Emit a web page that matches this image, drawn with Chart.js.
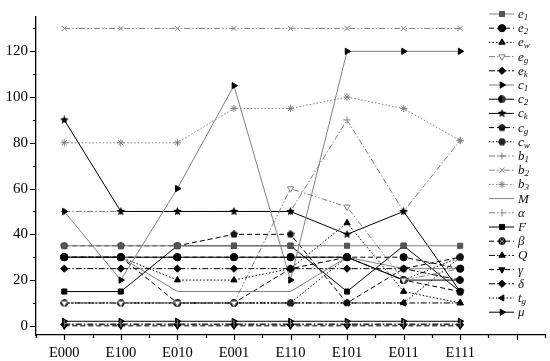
<!DOCTYPE html>
<html lang="en">
<head>
<meta charset="UTF-8">
<title>Scenario chart</title>
<script src="https://cdn.jsdelivr.net/npm/chart.js@4.4.0/dist/chart.umd.min.js"></script>
<style>
  *{margin:0;padding:0;box-sizing:border-box}
  body{background:#fff;width:550px;height:361px;overflow:hidden}
</style>
</head>
<body>
<canvas id="chart" width="550" height="361"></canvas>
<script>
// categories and ticks
const categories = ['E000','E100','E010','E001','E110','E101','E011','E111'];
const yTicks = [0, 20, 40, 60, 80, 100, 120];

// series values
const e1    = [35, 35, 35, 35, 35, 35, 35, 35];
const e2    = [30, 30, 30, 30, 30, 30, 30, 25];
const ew    = [30, 30, 20, 20, 25, 45, 15, 10];
const eg    = [10, 10, 10, 10, 60, 52, 20, 25];
const ek    = [25, 25, 25, 25, 25, 25, 25, 20];
const c1    = [50, 20, 60, 105, 20, 120, 120, 120];
const c2    = [30, 30, 30, 30, 30, 30, 20, 20];
const ck    = [90, 50, 50, 50, 50, 40, 50, 15];
const cg    = [35, 35, 35, 40, 40, 10, 25, 30];
const cw    = [10, 10, 10, 10, 10, 30, 20, 30];
const b1    = [50, 50, 50, 50, 50, 90, 50, 81];
const b2    = [130, 130, 130, 130, 130, 130, 130, 130];
const b3    = [80, 80, 80, 95, 95, 100, 95, 81];
const M     = [30, 30, 15, 15, 15, 30, 25, 25];
const alpha = [1, 1, 1, 1, 1, 1, 1, 1];
const F     = [15, 15, 35, 35, 35, 15, 35, 15];
const beta  = [30, 30, 10, 10, 25, 30, 20, 15];
const Q     = [10, 10, 10, 10, 10, 10, 10, 10];
const gamma = [0, 0, 0, 0, 0, 0, 0, 0];
const delta = [0.5, 0.5, 0.5, 0.5, 0.5, 0.5, 0.5, 0.5];
const tg    = [10, 10, 10, 10, 10, 10, 10, 30];
const mu    = [2, 2, 2, 2, 2, 2, 2, 2];

const GREY = '#808080', BLACK = '#000';
const SERIF = '"Liberation Serif", "Times New Roman", serif';
const SOLID = [], DASH = [5, 3], DOT = [1.5, 2], DASHDOT = [6, 2, 1.5, 2], DASHDOTDOT = [6, 2, 1.5, 2, 1.5, 2];

// small custom marker images
function marker(size, draw) {
  const c = document.createElement('canvas');
  c.width = c.height = size;
  const g = c.getContext('2d');
  draw(g, size / 2);
  return c;
}
const starImg = marker(9, (g, r) => {
  g.beginPath();
  for (let i = 0; i < 10; i++) {
    const a = -Math.PI / 2 + i * Math.PI / 5, rr = i % 2 ? r * 0.45 : r;
    g.lineTo(r + rr * Math.cos(a), r + rr * Math.sin(a));
  }
  g.closePath(); g.fillStyle = '#000'; g.fill();
});
const pentImg = marker(8, (g, r) => {
  g.beginPath();
  for (let i = 0; i < 5; i++) {
    const a = -Math.PI / 2 + i * 2 * Math.PI / 5;
    g.lineTo(r + r * Math.cos(a), r + r * Math.sin(a));
  }
  g.closePath(); g.fillStyle = '#111'; g.fill();
});
const halfImg = marker(8, (g, r) => {
  g.beginPath(); g.arc(r, r, r - 0.3, 0, Math.PI * 2); g.fillStyle = '#333'; g.fill();
  g.beginPath(); g.arc(r, r, r - 0.3, Math.PI / 2, Math.PI * 1.5); g.fillStyle = '#000'; g.fill();
});
const betaImg = marker(8, (g, r) => {
  g.beginPath(); g.arc(r, r, r - 0.3, 0, Math.PI * 2); g.fillStyle = '#111'; g.fill();
  g.strokeStyle = '#aaa'; g.lineWidth = 0.8;
  g.beginPath(); g.moveTo(2, 2); g.lineTo(6, 6); g.moveTo(6, 2); g.lineTo(2, 6); g.stroke();
});
const hexImg = marker(8, (g, r) => {
  g.beginPath();
  for (let i = 0; i < 6; i++) {
    const a = i * Math.PI / 3;
    g.lineTo(r + r * Math.cos(a), r + r * Math.sin(a));
  }
  g.closePath(); g.fillStyle = '#222'; g.fill();
});

const series = [
  {name: 'e', sub: '1', data: e1, color: GREY, dash: SOLID, style: 'rect', fill: '#555'},
  {name: 'e', sub: '2', data: e2, color: BLACK, dash: DASH, style: 'circle', fill: BLACK},
  {name: 'e', sub: 'w', data: ew, color: BLACK, dash: DOT, style: 'triangle', fill: BLACK},
  {name: 'e', sub: 'g', data: eg, color: GREY, dash: DASHDOTDOT, style: 'triangle', rot: 180, fill: '#fff'},
  {name: 'e', sub: 'k', data: ek, color: BLACK, dash: DASHDOT, style: 'rectRot', fill: BLACK},
  {name: 'c', sub: '1', data: c1, color: GREY, dash: SOLID, style: 'triangle', rot: 90, fill: BLACK},
  {name: 'c', sub: '2', data: c2, color: BLACK, dash: SOLID, style: halfImg},
  {name: 'c', sub: 'k', data: ck, color: BLACK, dash: SOLID, style: starImg},
  {name: 'c', sub: 'g', data: cg, color: BLACK, dash: DASH, style: pentImg},
  {name: 'c', sub: 'w', data: cw, color: BLACK, dash: DOT, style: hexImg},
  {name: 'b', sub: '1', data: b1, color: GREY, dash: DASHDOT, style: 'cross', fill: GREY},
  {name: 'b', sub: '2', data: b2, color: GREY, dash: DASHDOTDOT, style: 'crossRot', fill: GREY},
  {name: 'b', sub: '3', data: b3, color: GREY, dash: DOT, style: 'star', fill: GREY},
  {name: 'M', sub: '', data: M, color: GREY, dash: SOLID, style: false},
  {name: 'α', sub: '', data: alpha, color: GREY, dash: DASHDOT, style: 'line', rot: 90, fill: GREY},
  {name: 'F', sub: '', data: F, color: BLACK, dash: SOLID, style: 'rect', fill: BLACK},
  {name: 'β', sub: '', data: beta, color: BLACK, dash: DASH, style: betaImg},
  {name: 'Q', sub: '', data: Q, color: BLACK, dash: DASHDOT, style: 'triangle', fill: BLACK},
  {name: 'γ', sub: '', data: gamma, color: BLACK, dash: DASH, style: 'triangle', rot: 180, fill: BLACK},
  {name: 'δ', sub: '', data: delta, color: BLACK, dash: DASHDOT, style: 'rectRot', fill: BLACK},
  {name: 't', sub: 'g', data: tg, color: BLACK, dash: DOT, style: 'triangle', rot: 270, fill: BLACK},
  {name: 'μ', sub: '', data: mu, color: BLACK, dash: SOLID, style: 'triangle', rot: 90, fill: BLACK}
];

const datasets = series.map(s => ({
  label: s.name + s.sub,
  data: s.data.map((v, i) => ({x: i, y: v})),
  borderColor: s.color,
  borderWidth: 1,
  borderDash: s.dash,
  pointStyle: s.style,
  pointRotation: s.rot || 0,
  pointRadius: s.style ? 3.6 : 0,
  pointBackgroundColor: s.fill || BLACK,
  pointBorderColor: s.style === 'triangle' && s.fill === '#fff' ? GREY : (s.fill === '#555' ? '#555' : s.color === GREY && s.fill === BLACK ? BLACK : s.color),
  pointBorderWidth: 1,
  fill: false,
  tension: 0
}));

// axis tick marks (major + minor, outward)
const tickMarks = {
  id: 'tickMarks',
  afterDraw(chart) {
    const {ctx, scales: {x, y}, chartArea: a} = chart;
    ctx.save();
    ctx.strokeStyle = '#000';
    ctx.lineWidth = 1.2;
    ctx.beginPath();
    for (let v = -0.5; v <= 8.5; v += 0.5) {
      const px = Math.round(x.getPixelForValue(v)) + 0.5;
      const len = Number.isInteger(v) ? 5 : 3;
      ctx.moveTo(px, a.bottom); ctx.lineTo(px, a.bottom + len);
    }
    for (let v = 0; v <= 130; v += 10) {
      const py = Math.round(y.getPixelForValue(v)) + 0.5;
      const len = v % 20 === 0 ? 6 : 3;
      ctx.moveTo(a.left, py); ctx.lineTo(a.left - len, py);
    }
    ctx.stroke();
    ctx.restore();
  }
};

// legend: line sample + marker + italic label
const sideLegend = {
  id: 'sideLegend',
  afterDraw(chart) {
    const ctx = chart.ctx;
    ctx.save();
    chart.data.datasets.forEach((ds, i) => {
      const s = series[i];
      const y = 14 + i * 14.2;
      ctx.setLineDash(ds.borderDash);
      ctx.strokeStyle = ds.borderColor;
      ctx.lineWidth = 1;
      ctx.beginPath(); ctx.moveTo(489, y); ctx.lineTo(514, y); ctx.stroke();
      ctx.setLineDash([]);
      if (s.style) {
        ctx.fillStyle = ds.pointBackgroundColor;
        ctx.strokeStyle = ds.pointBorderColor;
        Chart.helpers.drawPoint(ctx, {pointStyle: s.style, radius: 3.6, rotation: s.rot || 0, borderWidth: 1}, 502, y);
      }
      ctx.fillStyle = '#111';
      ctx.textBaseline = 'alphabetic';
      ctx.font = 'italic 13px ' + SERIF;
      ctx.fillText(s.name, 518, y + 4);
      if (s.sub) {
        const w = ctx.measureText(s.name).width;
        ctx.font = 'italic 9px ' + SERIF;
        ctx.fillText(s.sub, 518 + w, y + 6);
      }
    });
    ctx.restore();
  }
};

new Chart(document.getElementById('chart'), {
  type: 'line',
  data: {datasets},
  options: {
    responsive: false,
    animation: false,
    devicePixelRatio: 1,
    layout: {padding: {left: 0, right: 5, top: 3, bottom: 0}},
    plugins: {legend: {display: false}, tooltip: {enabled: false}},
    scales: {
      x: {
        type: 'linear',
        min: -0.5, max: 8.5,
        afterBuildTicks: s => { s.ticks = categories.map((c, i) => ({value: i})); },
        afterFit: s => { s.height = 26; },
        grid: {display: false, drawTicks: false},
        border: {display: true, color: '#000', width: 1.3},
        ticks: {
          padding: 9,
          color: '#000',
          font: {family: SERIF, size: 14.5},
          callback: v => categories[v] ?? ''
        }
      },
      y: {
        type: 'linear',
        min: -4, max: 135,
        afterBuildTicks: s => { s.ticks = yTicks.map(v => ({value: v})); },
        afterFit: s => { s.width = 36; },
        grid: {display: false, drawTicks: false},
        border: {display: true, color: '#000', width: 1.3},
        ticks: {
          padding: 8,
          color: '#000',
          font: {family: SERIF, size: 15}
        }
      }
    }
  },
  plugins: [tickMarks, sideLegend]
});
</script>
</body>
</html>
